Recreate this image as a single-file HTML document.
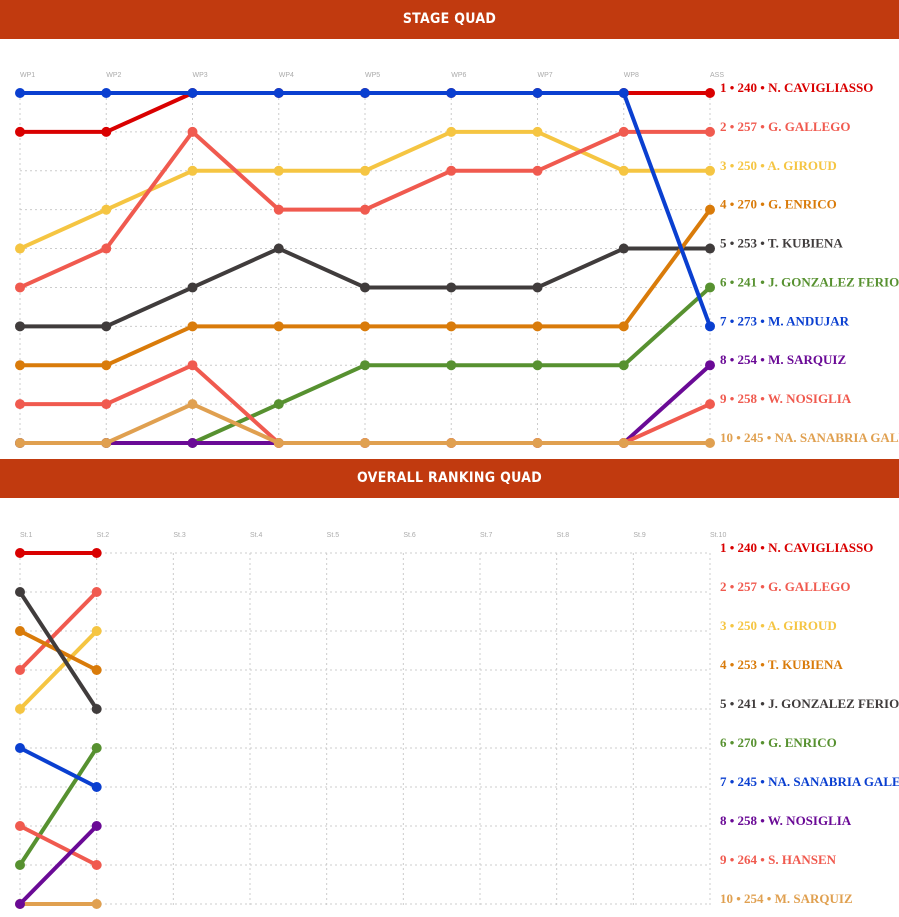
<!DOCTYPE html>
<html><head><meta charset="utf-8">
<style>
html,body{margin:0;padding:0;background:#fff;width:899px;height:917px;overflow:hidden}
.bar{position:absolute;left:0;width:899px;height:39px;background:#c13a0f;color:#fff;font-family:"DejaVu Sans Condensed","DejaVu Sans",sans-serif;font-stretch:condensed;font-weight:bold;font-size:14px;text-align:center;line-height:39px;letter-spacing:0.3px}
svg{position:absolute;left:0;top:0}
</style></head>
<body>
<div class="bar" style="top:0">STAGE QUAD</div>
<div class="bar" style="top:459px">OVERALL RANKING QUAD</div>
<svg id="c" width="899" height="917"></svg>
<script>
const stageCats=["WP1","WP2","WP3","WP4","WP5","WP6","WP7","WP8","ASS"];
const stageNames=["1 • 240 • N. CAVIGLIASSO","2 • 257 • G. GALLEGO","3 • 250 • A. GIROUD","4 • 270 • G. ENRICO","5 • 253 • T. KUBIENA","6 • 241 • J. GONZALEZ FERIOLI","7 • 273 • M. ANDUJAR","8 • 254 • M. SARQUIZ","9 • 258 • W. NOSIGLIA","10 • 245 • NA. SANABRIA GALEANO"];
const stageColors=["#d90000","#f05a4f","#f5c542","#d97b0a","#403c3c","#579130","#0a3fd0","#6a0a96","#f05a4f","#e0a050"];
const stageRanks=[
 [2,2,1,1,1,1,1,1,1],
 [6,5,2,4,4,3,3,2,2],
 [5,4,3,3,3,2,2,3,3],
 [8,8,7,7,7,7,7,7,4],
 [7,7,6,5,6,6,6,5,5],
 [10,10,10,9,8,8,8,8,6],
 [1,1,1,1,1,1,1,1,7],
 [10,10,10,10,10,10,10,10,8],
 [9,9,8,10,10,10,10,10,9],
 [10,10,9,10,10,10,10,10,10]];
const stageOrder=[5,7,8,9,4,3,2,1,0,6];
const overallCats=["St.1","St.2","St.3","St.4","St.5","St.6","St.7","St.8","St.9","St.10"];
const overallNames=["1 • 240 • N. CAVIGLIASSO","2 • 257 • G. GALLEGO","3 • 250 • A. GIROUD","4 • 253 • T. KUBIENA","5 • 241 • J. GONZALEZ FERIOLI","6 • 270 • G. ENRICO","7 • 245 • NA. SANABRIA GALEANO","8 • 258 • W. NOSIGLIA","9 • 264 • S. HANSEN","10 • 254 • M. SARQUIZ"];
const overallColors=["#d90000","#f05a4f","#f5c542","#d97b0a","#403c3c","#579130","#0a3fd0","#6a0a96","#f05a4f","#e0a050"];
const overallRanks=[[1,1],[4,2],[5,3],[3,4],[2,5],[9,6],[6,7],[10,8],[8,9],[10,10]];
const overallOrder=[9,0,1,2,3,4,5,6,8,7];

const NS="http://www.w3.org/2000/svg";
const svg=document.getElementById('c');
function mk(t,a){const e=document.createElementNS(NS,t);for(const k in a)e.setAttribute(k,a[k]);svg.appendChild(e);return e;}

function drawChart(cats,names,colors,ranks,order,x0,x1,y0,y1,labY,pref){
  const n=cats.length;
  const xs=i=>x0+(x1-x0)*i/(n-1);
  const ys=r=>y0+(y1-y0)*(r-1)/9;
  for(let r=1;r<=10;r++){
    const g=mk('line',{x1:x0,x2:x1,y1:ys(r),y2:ys(r),stroke:'#ccc','stroke-width':1,'stroke-dasharray':'2,3'});
    
    
  }
  cats.forEach((c,i)=>{
    const g=mk('line',{x1:xs(i),x2:xs(i),y1:y0,y2:y1+4,stroke:'#ccc','stroke-width':1,'stroke-dasharray':'2,3'});
    
    
    const t=mk('text',{x:xs(i),y:labY,'font-family':'Liberation Sans, sans-serif','font-size':7,fill:'#aaa'});
    t.textContent=c;
    
    
  });
  order.forEach(s=>{
    const pts=ranks[s].map((r,i)=>xs(i)+','+ys(r)).join(' ');
    const p=mk('polyline',{points:pts,fill:'none',stroke:colors[s],'stroke-width':4,'stroke-linejoin':'round'});
    
    
    ranks[s].forEach((r,i)=>{
      const c=mk('circle',{cx:xs(i),cy:ys(r),r:5,fill:colors[s]});
      
      
    });
  });
  names.forEach((nm,i)=>{
    const t=mk('text',{x:x1+10,y:ys(i+1)-1,'font-family':'Liberation Serif, serif','font-weight':'bold','font-size':13,fill:colors[i]});
    t.textContent=nm;
    
    
  });
}
drawChart(stageCats,stageNames,stageColors,stageRanks,stageOrder,20,710,93,443,77,'stage');
drawChart(overallCats,overallNames,overallColors,overallRanks,overallOrder,20,710,553,904,537,'overall');
</script>
</body></html>
